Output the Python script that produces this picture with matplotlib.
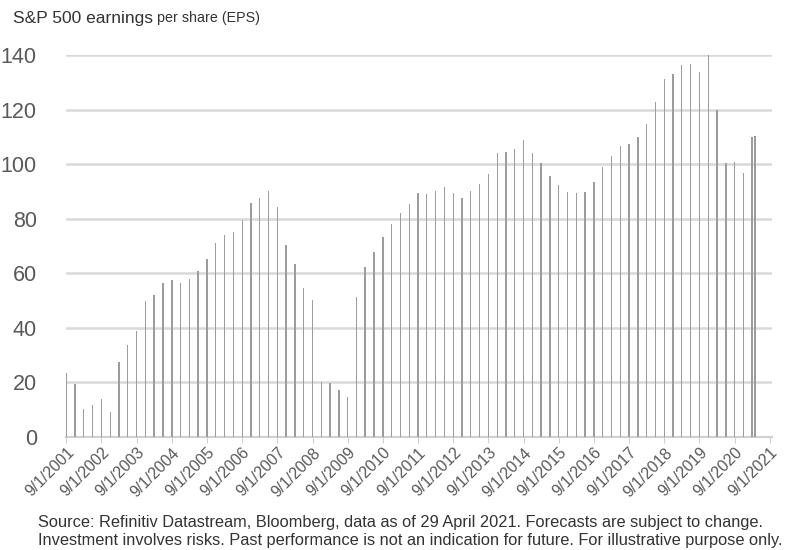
#!/usr/bin/env python3
import matplotlib

matplotlib.use("Agg")
import matplotlib.dates as mdates
import pandas as pd
from matplotlib import pyplot as plt

# quarterly readings, last point is April 2021
DATES = list(pd.date_range("2001-09-01", "2021-03-01", freq="3MS")) + [
    pd.Timestamp("2021-04-01")
]
EPS = [
    23.2, 19.5, 10.0, 11.5, 13.7, 9.2, 27.4, 33.6, 38.6, 49.6,
    51.9, 56.3, 57.4, 56.3, 58.0, 60.9, 65.2, 71.2, 73.8, 75.2,
    79.3, 85.6, 87.7, 90.1, 84.4, 70.2, 63.2, 54.4, 50.2, 19.9,
    19.7, 17.0, 14.5, 51.2, 62.2, 67.7, 73.3, 77.9, 81.9, 85.2,
    89.5, 89.2, 90.0, 91.7, 89.5, 87.7, 90.0, 92.8, 96.3, 103.9,
    104.3, 105.6, 108.7, 104.0, 100.5, 95.7, 92.4, 89.7, 89.4, 89.9,
    93.5, 98.8, 102.8, 106.6, 107.5, 109.9, 114.8, 122.9, 131.3, 132.9,
    136.4, 136.8, 133.7, 140.0, 119.7, 100.5, 100.7, 96.8, 109.9, 110.2,
]
TICK_YEARS = list(range(2001, 2022))
Y_TICKS = [0, 20, 40, 60, 80, 100, 120, 140]

TITLE_MAIN = "S&P 500 earnings"
TITLE_SUB = " per share (EPS)"
FOOTER = [
    "Source: Refinitiv Datastream, Bloomberg, data as of 29 April 2021. "
    "Forecasts are subject to change.",
    "Investment involves risks. Past performance is not an indication for "
    "future. For illustrative purpose only.",
]

plt.rcParams["font.family"] = ["Liberation Sans", "DejaVu Sans"]

fig = plt.figure(figsize=(7.85, 5.5), dpi=100)
ax = fig.add_axes((0.084, 0.206, 0.9, 0.694))

ax.bar(DATES, EPS, width=14, color="#9c9c9c", linewidth=0, zorder=3)

ax.set_ylim(0, 140)
ax.set_yticks(Y_TICKS)
ax.set_xlim(pd.Timestamp("2001-08-28"), pd.Timestamp("2021-09-28"))
ticks = [pd.Timestamp(f"{y}-09-01") for y in TICK_YEARS]
ax.set_xticks(ticks)
ax.xaxis.set_major_formatter(mdates.DateFormatter("%-m/%-d/%Y"))

ax.grid(axis="y", color="#d9d9d9", linewidth=1.8, zorder=0)
for side in ("top", "right", "left"):
    ax.spines[side].set_visible(False)
ax.spines["bottom"].set_color("#d0d0d0")
ax.spines["bottom"].set_linewidth(1.5)

ax.tick_params(axis="y", length=0, pad=21, labelsize=15.5, labelcolor="#595959")
ax.tick_params(axis="x", length=4, color="#d0d0d0", labelsize=11.5,
               labelcolor="#595959", pad=2)
for label in ax.get_xticklabels():
    label.set_rotation(45)
    label.set_ha("right")
    label.set_rotation_mode("anchor")

t = fig.text(13 / 785, 1 - 18 / 550, TITLE_MAIN, fontsize=12.5,
             color="#333333", va="center")
fig.canvas.draw()
bb = t.get_window_extent()
fig.text(bb.x1 / 785, 1 - 18 / 550, TITLE_SUB, fontsize=10.3,
         color="#333333", va="center")

for i, line in enumerate(FOOTER):
    fig.text(38 / 785, 1 - (522 + 18 * i) / 550, line, fontsize=11.8,
             color="#333333", va="center")

fig.savefig("out.png", dpi=100)
